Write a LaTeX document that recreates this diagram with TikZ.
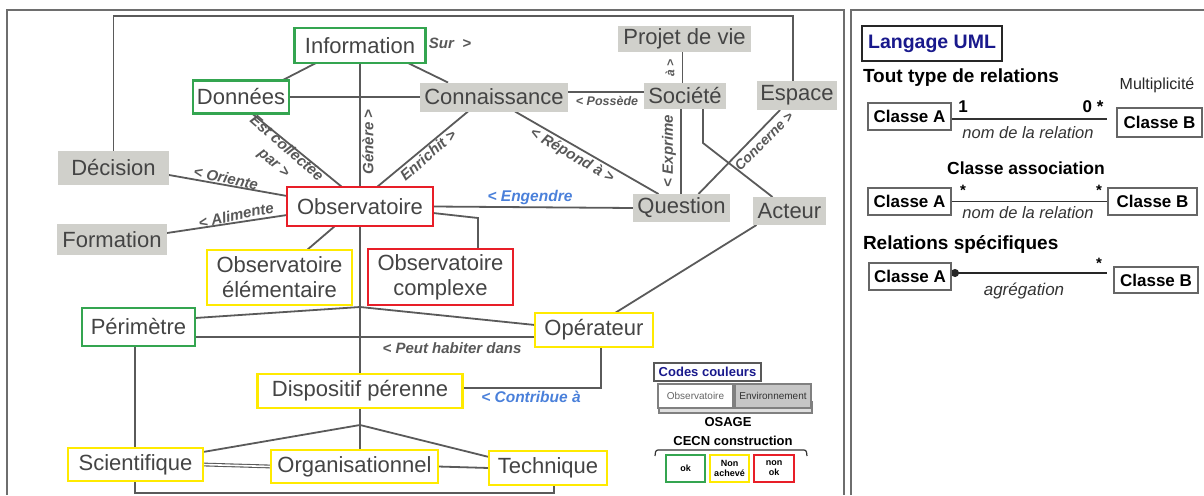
\documentclass[tikz,border=0pt]{standalone}
\usepackage{fontspec}
\setmainfont{Liberation Sans}
\usetikzlibrary{backgrounds,arrows.meta,calc}
\definecolor{cgreen}{RGB}{52,165,80}
\definecolor{cyellow}{RGB}{255,234,0}
\definecolor{cred}{RGB}{232,30,40}
\definecolor{cgray}{RGB}{208,208,203}
\definecolor{boxtxt}{RGB}{68,68,68}
\definecolor{labcol}{RGB}{88,88,88}
\definecolor{lncol}{RGB}{90,90,90}
\definecolor{cblue}{RGB}{74,128,218}
\definecolor{cnavy}{RGB}{25,25,140}
\definecolor{framecol}{RGB}{110,110,110}
\newcommand{\myfs}[2]{\fontsize{#1}{#2}\selectfont}
\begin{document}
\begin{tikzpicture}[x=1pt,y=-1pt,
 every node/.style={inner sep=0pt,outer sep=0pt},
 sz/.style 2 args={minimum width=#1pt,minimum height=#2pt},
 bx/.style={font=\myfs{22}{25}, text=boxtxt, align=center},
 gb/.style={bx,draw=cgreen,line width=2.6pt,fill=white},
 yb/.style={bx,draw=cyellow,line width=2.6pt,fill=white},
 rb/.style={bx,draw=cred,line width=2.6pt,fill=white},
 gy/.style={bx,fill=cgray},
 ln/.style={draw=lncol,line width=1.8pt},
 lab/.style={font=\myfs{15}{18}\bfseries\itshape,text=labcol},
 blab/.style={font=\myfs{15.5}{18}\bfseries\itshape,text=cblue},
 cls/.style={draw=gray!80!black,line width=1.2pt,font=\myfs{17}{19}\bfseries,text=black,fill=white},
 bt/.style={font=\myfs{#1}{#1}\bfseries,text=black},
 lg/.style={line width=1.4pt,font=\myfs{9}{10}\bfseries,text=black,align=center,fill=white}
]
\useasboundingbox (0,0) rectangle (1204,495);

% ---------- left diagram nodes
\node[gb,sz={131}{35}] (info) at (360,45.5) {Information};
\node[gb,sz={96}{33}] (don) at (241,97) {Données};
\node[gy,sz={148}{29}] (conn) at (494,97) {Connaissance};
\node[gy,sz={133}{26}] (proj) at (684.5,39) {Projet de vie};
\node[gy,sz={82}{26}] (soc) at (685,96) {Société};
\node[gy,sz={80}{29}] (esp) at (797,95.5) {Espace};
\node[gy,sz={97}{28}] (que) at (681.5,208) {Question};
\node[gy,sz={73}{28}] (act) at (789.5,211) {Acteur};
\node[gy,sz={111}{34}] (dec) at (113.5,168) {Décision};
\node[gy,sz={110}{31}] (form) at (112,239.5) {Formation};
\node[rb,sz={146}{39}] (obs) at (360,206.5) {Observatoire};
\node[yb,sz={145}{55}] (elem) at (279.5,277.5) {Observatoire\\élémentaire};
\node[rb,sz={145}{56}] (cplx) at (440.5,277) {Observatoire\\complexe};
\node[gb,sz={113}{38}] (per) at (138.5,327) {Périmètre};
\node[yb,sz={118}{34}] (ope) at (594,330) {Opérateur};
\node[yb,sz={205}{34}] (disp) at (360,391) {Dispositif pérenne};
\node[yb,sz={135}{33}] (sci) at (135.5,464.5) {Scientifique};
\node[yb,sz={167}{33}] (org) at (354.5,466.5) {Organisationnel};
\node[yb,sz={118}{34}] (tech) at (548,468) {Technique};

% ---------- connector labels
\node[lab] (lsur) at (450,43) {Sur\ \ >};
\node[lab,rotate=90] (lgen) at (368,142) {Génère >};
\node[lab,font=\myfs{12.5}{14}\bfseries\itshape] (lposs) at (607,101) {< Possède};
\node[lab,rotate=90,font=\myfs{12}{14}\bfseries\itshape] (la) at (670,68) {à >};
\node[lab,rotate=90] (lexp) at (669,151) {< Exprime};
\node[lab,rotate=45,font=\myfs{14}{16}\bfseries\itshape] (lconc) at (764,141) {Concerne >};
\node[lab,rotate=-30] (lrep) at (572,156) {< Répond à >};
\node[lab,rotate=41] (lenr) at (428,155) {Enrichit >};
\node[lab,rotate=-41,align=center,font=\myfs{15}{19}\bfseries\itshape] (lcol) at (280,156) {Est collectée\\par >};
\node[lab,rotate=-12] (lori) at (226,178) {< Oriente};
\node[lab,rotate=12] (lali) at (236,215) {< Alimente};
\node[blab] (leng) at (530,197) {< Engendre};
\node[lab] (lpeut) at (452,348) {< Peut habiter dans};
\node[blab] (lcontr) at (531,397) {< Contribue à};

% ---------- legend
\node[draw=gray!70!black,line width=1.2pt,sz={107}{18},font=\myfs{13}{14}\bfseries,text=cnavy] (codes) at (707.5,372) {Codes couleurs};
\node[draw=gray,line width=1.2pt,fill=white,sz={75}{24},font=\myfs{10}{11},text=gray!80!black] (lobs) at (695.5,396) {Observatoire};
\node[draw=gray,line width=1.2pt,fill=gray!45,sz={76}{24},font=\myfs{10}{11},text=gray!40!black] (lenv) at (773,396) {Environnement};
\node[bt=13] (osage) at (728,422) {OSAGE};
\node[bt=13] (cecn) at (733,441) {CECN construction};
\node[lg,draw=cgreen,sz={39}{27}] (lok) at (685.5,468.5) {ok};
\node[lg,draw=cyellow,sz={39}{27}] (lna) at (729.5,468.5) {Non\\achevé};
\node[lg,draw=cred,sz={40}{27}] (lnok) at (774,468.5) {non\\ok};

% ---------- right panel
\node[draw=black!85,line width=2pt,sz={140}{35},font=\myfs{19.5}{21}\bfseries,text=cnavy] (uml) at (932,43.5) {Langage UML};
\node[bt=19,anchor=west] (tout) at (863,78) {Tout type de relations};
\node[font=\myfs{16}{18},text=black!85] (mult) at (1157,85) {Multiplicité};
\node[cls,sz={83}{27}] (ca1) at (909.5,116.5) {Classe A};
\node[cls,sz={85}{29}] (cb1) at (1159.5,122.5) {Classe B};
\node[bt=17] (m1) at (963,107) {1};
\node[bt=17] (m2) at (1093,107) {0 *};
\node[font=\myfs{16.5}{18}\itshape,text=black!80] (nr1) at (1028,133) {nom de la relation};
\node[bt=17.5] (cass) at (1026,168) {Classe association};
\node[cls,sz={83}{27}] (ca2) at (909.5,201.5) {Classe A};
\node[cls,sz={89}{27}] (cb2) at (1152.5,201.5) {Classe B};
\node[bt=15] (s1) at (963,190) {*};
\node[bt=15] (s2) at (1099,190) {*};
\node[font=\myfs{16.5}{18}\itshape,text=black!80] (nr2) at (1028,213) {nom de la relation};
\node[bt=19,anchor=west] (rspec) at (863,245) {Relations spécifiques};
\node[cls,sz={82}{27}] (ca3) at (910,276.5) {Classe A};
\node[cls,sz={84}{26}] (cb3) at (1156,280) {Classe B};
\node[bt=15] (s3) at (1099,263) {*};
\node[font=\myfs{17}{19}\itshape,text=black!80] (agr) at (1024,291) {agrégation};

\begin{scope}[on background layer]
 % frames
 \draw[framecol,line width=1.5pt] (7,495) -- (7,10) -- (844,10) -- (844,495);
 \draw[framecol,line width=1.5pt] (851,495) -- (851,10) -- (1204,10);
 % legend shadow base and brace
 \draw[gray,line width=1.2pt,fill=gray!25] (659,402) rectangle (812,413);
 \draw[black!80,line width=1.2pt] (655,456) to[out=90,in=180] (658,450) -- (804,450) to[out=0,in=90] (807,456);
 % coordinates
 \coordinate (topc) at (450,16);
 \coordinate (sa) at (703,143);
 \coordinate (cj) at (478,218);
 \coordinate (j1) at (360,307);
 \coordinate (j2) at ($(disp.south)+(0,17)$);
 \coordinate (botc) at (300,493);
 % connectors
 \draw[ln] (dec.north) |- (topc) -| ([xshift=-4pt]esp.north);
 \draw[ln] ([xshift=-44pt]info.south) -- ([xshift=41pt]don.north);
 \draw[ln] ([xshift=48pt]info.south) -- ([xshift=-46pt]conn.north);
 \draw[ln] (info.south) -- (disp.north);
 \draw[ln] (don.east) -- (conn.west);
 \draw[ln] ([yshift=5pt]conn.east) -- ([yshift=5pt]conn.east -| soc.west);
 \draw[ln] ([xshift=-2pt]proj.south) -- ([xshift=-2pt]proj.south |- soc.north);
 \draw[ln] ([xshift=-4pt]soc.south) -- ([xshift=-4pt]soc.south |- que.north);
 \draw[ln] ([xshift=18pt]soc.south) -- (sa) -- ([xshift=-17pt]act.north);
 \draw[ln] ([xshift=17pt]que.north) -- ([xshift=-17pt]esp.south);
 \draw[ln] ([xshift=21pt]conn.south) -- ([xshift=-23pt]que.north);
 \draw[ln] ([xshift=-26pt]conn.south) -- ([xshift=17pt]obs.north);
 \draw[ln] ([xshift=11pt]don.south) -- ([xshift=-18pt]obs.north);
 \draw[ln] ([yshift=-7pt]dec.east) -- ([yshift=10.5pt]obs.west);
 \draw[ln] ([yshift=6.5pt]form.east) -- ([yshift=-8.5pt]obs.west);
 \draw[ln] (obs.east) -- (que.west);
 \draw[ln] ([yshift=-6.5pt]obs.east) -- (cj) -- (cj |- cplx.north);
 \draw[ln] ([xshift=-25pt]obs.south) -- ([xshift=27.5pt]elem.north);
 \draw[ln] ([yshift=9pt]per.east) -- (j1) -- ([yshift=5pt]ope.west);
 \draw[ln] ([yshift=-10pt]per.east) -- ([yshift=-10pt]per.east -| ope.west);
 \draw[ln] ([xshift=21pt]ope.north) -- ([xshift=-33pt]act.south);
 \draw[ln] ([xshift=7pt]ope.south) |- ([yshift=3pt]disp.east);
 \draw[ln] (disp.south) -- (j2);
 \draw[ln] (j2) -- ([yshift=12.5pt]sci.east);
 \draw[ln] (j2) -- (j2 |- org.north);
 \draw[ln] (j2) -- ([yshift=11pt]tech.west);
 \draw[ln,line width=1.1pt,double=white,double distance=1.6pt] (sci.east) -- (org.west);
 \draw[ln] (org.east) -- (tech.west);
 \draw[ln] ([xshift=-3.5pt]per.south) |- (botc) -| ([xshift=6pt]tech.south);
 % UML lines
 \draw[black!80,line width=1.3pt] ([yshift=-2.5pt]ca1.east) -- ([xshift=-10pt,yshift=3.5pt]cb1.west);
 \draw[black!80,line width=1.3pt] (ca2.east) -- (cb2.west);
 \draw[black!85,line width=1.3pt,{Circle[length=8pt]}-] ([yshift=3.5pt]ca3.east) -- ([xshift=-7pt,yshift=7pt]cb3.west);
\end{scope}
\end{tikzpicture}
\end{document}
